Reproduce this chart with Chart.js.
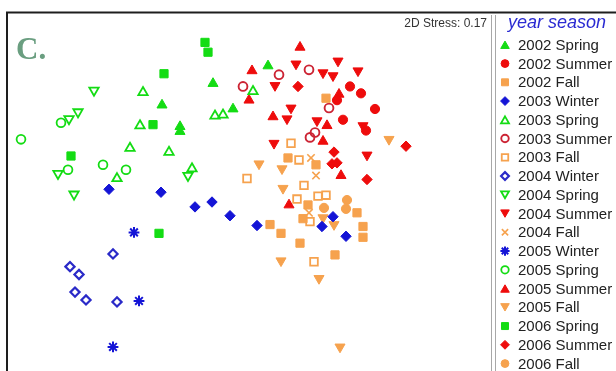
<!DOCTYPE html>
<html>
<head>
<meta charset="utf-8">
<script src="https://cdn.jsdelivr.net/npm/chart.js@4/dist/chart.umd.min.js"></script>
<style>
  html, body { margin: 0; padding: 0; background: #fff; }
  #wrap { position: relative; width: 616px; height: 371px; }
</style>
</head>
<body>
<div id="wrap"><canvas id="c" width="616" height="371"></canvas></div>
<script>
// NMDS ordination scores (axis 1, axis 2) per sampling year and season
const spring2002 = [[-0.88,0.93],[-0.70,0.71],[-0.70,0.66],[0.18,1.33],[-0.37,1.15],[-0.17,0.89]];
const summer2002 = [[1.00,1.12],[1.11,1.05],[0.87,0.98],[1.25,0.89],[0.93,0.78],[1.16,0.67]];
const fall2002   = [[0.76,1.00],[0.38,0.39],[0.66,0.32],[0.58,-0.09],[1.07,-0.17],[0.53,-0.23],[0.20,-0.29],[0.31,-0.38],[1.13,-0.31],[1.13,-0.42],[0.50,-0.48],[0.85,-0.60]];
const winter2003 = [[-1.41,0.07],[-0.89,0.04],[-0.55,-0.11],[-0.38,-0.06],[-0.20,-0.20],[0.07,-0.30],[0.83,-0.21],[0.72,-0.31],[0.96,-0.41]];
const spring2003 = [[-1.07,1.06],[-1.10,0.72],[-1.20,0.49],[-0.81,0.45],[-1.33,0.18],[-0.58,0.28],[0.03,1.07],[-0.35,0.82],[-0.27,0.83]];
const summer2003 = [[0.59,1.29],[0.29,1.24],[-0.07,1.12],[0.79,0.90],[0.65,0.65],[0.60,0.60]];
const fall2003   = [[0.41,0.54],[0.49,0.37],[-0.03,0.18],[0.54,0.11],[0.68,0.00],[0.76,0.01],[0.47,-0.03],[0.60,-0.26],[0.64,-0.67]];
const winter2004 = [[-1.37,-0.59],[-1.80,-0.72],[-1.71,-0.80],[-1.75,-0.98],[-1.64,-1.06],[-1.33,-1.08]];
const spring2004 = [[-1.56,1.08],[-1.72,0.86],[-1.81,0.79],[-1.92,0.23],[-0.62,0.21],[-1.76,0.02]];
const summer2004 = [[0.46,1.35],[0.88,1.38],[0.73,1.26],[0.83,1.23],[1.08,1.28],[0.25,1.13],[0.41,0.90],[0.37,0.79],[0.67,0.77],[1.13,0.72],[0.24,0.54],[1.17,0.42]];
const fall2004   = [[0.61,0.39],[0.66,0.21],[0.59,-0.17]];
const winter2005 = [[-1.16,-0.37],[-1.11,-1.07],[-1.37,-1.54]];
const spring2005 = [[-2.29,0.58],[-1.89,0.75],[-1.82,0.27],[-1.47,0.32],[-1.24,0.27]];
const summer2005 = [[0.50,1.52],[0.02,1.28],[-0.01,0.98],[0.89,1.04],[0.23,0.81],[0.77,0.72],[0.73,0.56],[0.91,0.21],[0.39,-0.09]];
const fall2005   = [[1.39,0.58],[0.09,0.33],[0.32,0.28],[0.33,0.08],[0.73,-0.22],[0.84,-0.29],[0.31,-0.66],[0.69,-0.84],[0.90,-1.54]];
const spring2006 = [[-0.45,1.57],[-0.42,1.47],[-0.86,1.25],[-0.97,0.73],[-1.79,0.41],[-0.91,-0.38]];
const summer2006 = [[0.48,1.12],[0.84,0.45],[0.82,0.33],[0.87,0.34],[1.17,0.17],[1.56,0.51]];
const fall2006   = [[0.97,-0.04],[0.74,-0.12],[0.96,-0.13]];

const seriesLabels = ['2002 Spring','2002 Summer','2002 Fall','2003 Winter','2003 Spring','2003 Summer',
  '2003 Fall','2004 Winter','2004 Spring','2004 Summer','2004 Fall','2005 Winter','2005 Spring',
  '2005 Summer','2005 Fall','2006 Spring','2006 Summer','2006 Fall'];
const seriesScores = [spring2002, summer2002, fall2002, winter2003, spring2003, summer2003,
  fall2003, winter2004, spring2004, summer2004, fall2004, winter2005, spring2005,
  summer2005, fall2005, spring2006, summer2006, fall2006];

const stressText = '2D Stress: 0.17';
const legendTitle = 'year season';
const panelLetter = 'C.';

// marker styling per series: [pointStyle, rotation, colour, filled, radius, line width]
const GREEN = '#14dc14', RED = '#ee0c0c', ORANGE = '#f6a24e', BLUE = '#1414d6',
      DARKRED = '#cc2434', NAVY = '#2a2ac8';
const markerStyles = [
  ['triangle', 0, GREEN, true, 5.8, 1],
  ['circle', 0, RED, true, 4.6, 1],
  ['rect', 0, ORANGE, true, 5.8, 1],
  ['rectRot', 0, BLUE, true, 5.2, 1],
  ['triangle', 0, GREEN, false, 5.4, 1.8],
  ['circle', 0, DARKRED, false, 4.4, 1.9],
  ['rect', 0, ORANGE, false, 5.4, 1.8],
  ['rectRot', 0, NAVY, false, 4.6, 2.2],
  ['triangle', 180, GREEN, false, 5.4, 1.8],
  ['triangle', 180, RED, true, 5.8, 1],
  ['crossRot', 0, ORANGE, false, 5.2, 1.6],
  ['star', 0, BLUE, false, 5.4, 2],
  ['circle', 0, GREEN, false, 4.4, 1.8],
  ['triangle', 0, RED, true, 5.8, 1],
  ['triangle', 180, ORANGE, true, 5.8, 1],
  ['rect', 0, GREEN, true, 5.8, 1],
  ['rectRot', 0, RED, true, 5.2, 1],
  ['circle', 0, ORANGE, true, 4.6, 1]
];

const datasets = seriesLabels.map((label, i) => {
  const [style, rot, col, filled, r, lw] = markerStyles[i];
  return {
    label,
    data: seriesScores[i].map(([x, y]) => ({ x, y })),
    pointStyle: style,
    rotation: rot,
    pointRadius: r,
    pointHoverRadius: r,
    backgroundColor: filled ? col : 'rgba(255,255,255,0)',
    borderColor: col,
    borderWidth: lw,
    showLine: false
  };
});

// outer frame, panel letter and stress annotation
const framePlugin = {
  id: 'frame',
  beforeDraw(chart) {
    const ctx = chart.ctx;
    ctx.save();
    ctx.fillStyle = '#fff';
    ctx.fillRect(0, 0, chart.width, chart.height);
    ctx.strokeStyle = '#1e1e1e';
    ctx.lineWidth = 2;
    ctx.beginPath();
    ctx.moveTo(7, chart.height);
    ctx.lineTo(7, 12.5);
    ctx.lineTo(chart.width, 12.5);
    ctx.stroke();
    ctx.strokeStyle = '#a8a8a8';
    ctx.lineWidth = 1;
    ctx.beginPath();
    ctx.moveTo(491.5, 15); ctx.lineTo(491.5, chart.height);
    ctx.moveTo(495.5, 15); ctx.lineTo(495.5, chart.height);
    ctx.stroke();
    ctx.fillStyle = '#6a9e80';
    ctx.font = 'bold 31px "Liberation Serif", "DejaVu Serif", serif';
    ctx.textBaseline = 'alphabetic';
    ctx.textAlign = 'left';
    ctx.fillText(panelLetter, 16, 59);
    ctx.fillStyle = '#333';
    ctx.font = '12px "Liberation Sans", Arial, sans-serif';
    ctx.textAlign = 'right';
    ctx.fillText(stressText, 487, 27);
    ctx.restore();
  }
};

// legend column to the right of the ordination
const legendPlugin = {
  id: 'seasonLegend',
  afterDraw(chart) {
    const ctx = chart.ctx;
    ctx.save();
    ctx.fillStyle = '#2a2ad2';
    ctx.font = 'italic 18px "Liberation Sans", Arial, sans-serif';
    ctx.textAlign = 'left';
    ctx.textBaseline = 'alphabetic';
    ctx.fillText(legendTitle, 508, 28);
    ctx.font = '15px "Liberation Sans", Arial, sans-serif';
    ctx.textBaseline = 'middle';
    chart.data.datasets.forEach((ds, i) => {
      const y = 44.8 + i * 18.75;
      ctx.save();
      ctx.fillStyle = ds.backgroundColor;
      ctx.strokeStyle = ds.borderColor;
      ctx.lineWidth = ds.borderWidth;
      const my = ds.pointStyle === 'triangle' ? (ds.rotation ? y - 1.2 : y + 1.2) : y;
      Chart.helpers.drawPoint(ctx, {
        pointStyle: ds.pointStyle,
        rotation: ds.rotation,
        radius: ds.pointRadius * 0.85,
        borderWidth: ds.borderWidth
      }, 505, my);
      ctx.restore();
      ctx.fillStyle = '#222';
      ctx.fillText(ds.label, 518, y + 1);
    });
    ctx.restore();
  }
};

new Chart(document.getElementById('c'), {
  type: 'scatter',
  data: { datasets },
  options: {
    responsive: false,
    devicePixelRatio: 1,
    animation: false,
    layout: { padding: { left: 8, right: 126, top: 14, bottom: 0 } },
    plugins: { legend: { display: false }, tooltip: { enabled: false } },
    scales: {
      x: { type: 'linear', min: -2.42, max: 2.40, display: false },
      y: { type: 'linear', min: -1.71, max: 1.86, display: false }
    },
    clip: false
  },
  plugins: [framePlugin, legendPlugin]
});
</script>
</body>
</html>
